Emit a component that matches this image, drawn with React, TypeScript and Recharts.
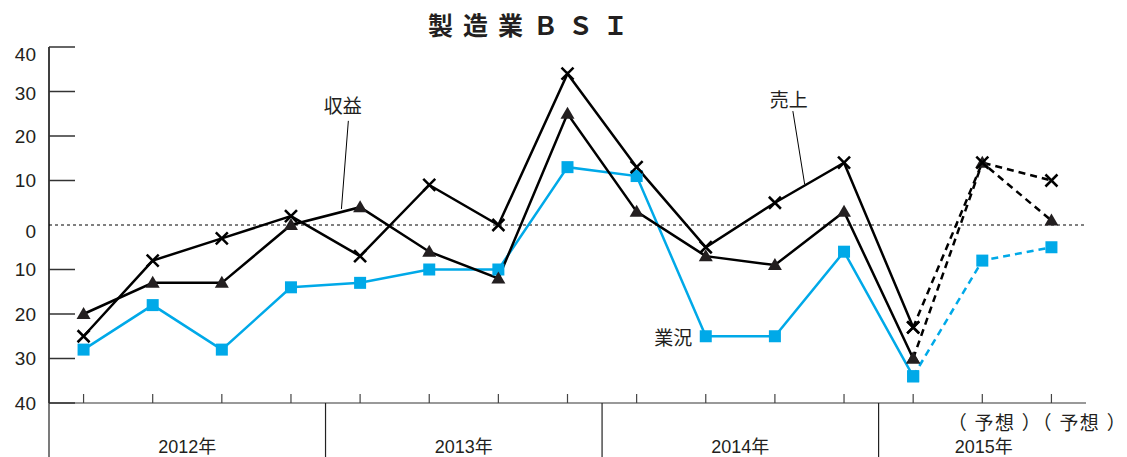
import React from 'react';
import { LineChart, Line, XAxis, YAxis, ReferenceLine, ReferenceDot } from 'recharts';

const categories = ['2012Q1','2012Q2','2012Q3','2012Q4','2013Q1','2013Q2','2013Q3','2013Q4','2014Q1','2014Q2','2014Q3','2014Q4','2015Q1','2015Q2','2015Q3'];
const sales =      [-25, -8, -3, 2, -7, 9, 0, 34, 13, -5, 5, 14, -23, 14, 10];
const profit =     [-20, -13, -13, 0, 4, -6, -12, 25, 3, -7, -9, 3, -30, 14, 1];
const conditions = [-28, -18, -28, -14, -13, -10, -10, 13, 11, -25, -25, -6, -34, -8, -5];
const FORECAST_START = 12;
const yTicks = [-40, -30, -20, -10, 0, 10, 20, 30, 40];
const yearLabels = [
  { label: '2012年', at: 1.5, anchor: 'middle' },
  { label: '2013年', at: 5.5, anchor: 'middle' },
  { label: '2014年', at: 9.5, anchor: 'middle' },
  { label: '2015年', at: 12.6, anchor: 'start' },
];
const forecastLabel = { label: '（ 予想 ）（ 予想 ）', at: 12.5 };
const yearBoundaries = [-0.5, 3.5, 7.5, 11.5];

const W = 1127, H = 457;
const M = { top: 47, right: 41, left: 0, bottom: 0 };
const YAXIS_W = 49;
const XAXIS_H = 54;
const PLOT_W = W - M.right - YAXIS_W;
const BAND = PLOT_W / categories.length;

const BLUE = '#00a9e8';
const DARK = '#231f20';
const FONT = '"Liberation Sans", Arial, "Noto Sans CJK JP", sans-serif';
const Y_LABEL_NUDGE: Record<number, number> = { 40: 7, 0: 6, 30: 1.5 };

const data = categories.map((c, i) => ({
  i,
  cat: c,
  sales: i <= FORECAST_START ? sales[i] : null,
  salesF: i >= FORECAST_START ? sales[i] : null,
  profit: i <= FORECAST_START ? profit[i] : null,
  profitF: i >= FORECAST_START ? profit[i] : null,
  cond: i <= FORECAST_START ? conditions[i] : null,
  condF: i >= FORECAST_START ? conditions[i] : null,
}));

const CrossDot = (p: any) => {
  if (p.cx == null || p.cy == null || p.value == null) return <g key={p.key} />;
  const s = 6;
  return (
    <g key={p.key}>
      <line x1={p.cx - s} y1={p.cy - s} x2={p.cx + s} y2={p.cy + s} stroke="#000" strokeWidth={2.5} />
      <line x1={p.cx - s} y1={p.cy + s} x2={p.cx + s} y2={p.cy - s} stroke="#000" strokeWidth={2.5} />
    </g>
  );
};
const TriDot = (p: any) => {
  if (p.cx == null || p.cy == null || p.value == null) return <g key={p.key} />;
  return <polygon key={p.key} points={`${p.cx},${p.cy - 7} ${p.cx - 7},${p.cy + 5} ${p.cx + 7},${p.cy + 5}`} fill={DARK} />;
};
const SqDot = (p: any) => {
  if (p.cx == null || p.cy == null || p.value == null) return <g key={p.key} />;
  return <rect key={p.key} x={p.cx - 6} y={p.cy - 6} width={12} height={12} fill={BLUE} />;
};

const YTick = (p: any) => {
  const v = p.payload.value;
  return (
    <g>
      <text x={36} y={p.y + (Y_LABEL_NUDGE[v] || 0)} textAnchor="end" dominantBaseline="central" fontSize={19} fontFamily={FONT} fill="#231f20">
        {Math.abs(v)}
      </text>
      {v !== 0 && <line x1={YAXIS_W} x2={YAXIS_W + 26} y1={p.y} y2={p.y} stroke="#333" strokeWidth={1.5} />}
    </g>
  );
};

const XTick = (p: any) => {
  const i = p.payload.value;
  const x = p.x;
  const y = p.y;
  const items: any[] = [];
  items.push(<line key="t" x1={x} x2={x} y1={y - 9} y2={y} stroke="#444" strokeWidth={1.2} />);
  yearBoundaries.forEach((b, k) => {
    if (Math.ceil(b) === i) {
      const bx = x + (b - i) * BAND;
      items.push(<line key={'b' + k} x1={bx} x2={bx} y1={y} y2={y + XAXIS_H} stroke="#222" strokeWidth={1.2} />);
    }
  });
  yearLabels.forEach((yl, k) => {
    if (Math.floor(yl.at) === i) {
      const lx = x + (yl.at - i) * BAND;
      items.push(
        <text key={'y' + k} x={lx} y={y + 44} textAnchor={yl.anchor} dominantBaseline="central" fontSize={18} fontFamily={FONT} fill="#231f20">
          {yl.label}
        </text>
      );
    }
  });
  if (Math.floor(forecastLabel.at) === i) {
    const lx = x + (forecastLabel.at - i) * BAND;
    items.push(
      <text key="f" x={lx} y={y + 20} textAnchor="start" dominantBaseline="central" fontSize={19} letterSpacing={1.3} fontFamily={FONT} fill="#231f20">
        {forecastLabel.label}
      </text>
    );
  }
  return <g>{items}</g>;
};

const seriesLabel = (text: string) => ({
  value: text,
  position: 'center' as const,
  fontSize: 19,
  fontFamily: FONT,
  fill: '#231f20',
});

export default function App() {
  return (
    <div style={{ position: 'absolute', left: 0, top: 0, width: W, height: H, background: '#fff' }}>
      <style>{`body{margin:0}`}</style>
      <div
        style={{
          position: 'absolute', left: 333, top: 6, width: 400, textAlign: 'center',
          fontFamily: '"Noto Sans CJK JP", sans-serif', fontWeight: 700, fontSize: 25,
          letterSpacing: 10, color: '#231f20', lineHeight: '36px',
        }}
      >
        製造業ＢＳＩ
      </div>
      <LineChart width={W} height={H} data={data} margin={M}>
        <XAxis
          dataKey="i"
          type="number"
          domain={[-0.5, categories.length - 0.5]}
          ticks={categories.map((_, i) => i)}
          interval={0}
          height={XAXIS_H}
          tickSize={0}
          tickMargin={0}
          axisLine={{ stroke: '#777', strokeWidth: 1.5 }}
          tickLine={false}
          tick={<XTick />}
        />
        <YAxis
          type="number"
          domain={[-40, 40]}
          ticks={yTicks}
          interval={0}
          width={YAXIS_W}
          tickSize={0}
          axisLine={{ stroke: '#000', strokeWidth: 1.5 }}
          tickLine={false}
          tick={<YTick />}
        />
        <ReferenceLine y={0} stroke="#000" strokeWidth={1} strokeDasharray="3 3" />
        <ReferenceLine segment={[{ x: 3.83, y: 23.4 }, { x: 3.73, y: 3.6 }]} stroke="#000" strokeWidth={1} />
        <ReferenceLine segment={[{ x: 10.26, y: 25.6 }, { x: 10.43, y: 9.2 }]} stroke="#000" strokeWidth={1} />
        <ReferenceDot x={3.75} y={26.6} r={0} stroke="none" fill="none" label={seriesLabel('収益')} />
        <ReferenceDot x={10.2} y={28.0} r={0} stroke="none" fill="none" label={seriesLabel('売上')} />
        <ReferenceDot x={8.53} y={-25.5} r={0} stroke="none" fill="none" label={seriesLabel('業況')} />

        <Line dataKey="cond" stroke={BLUE} strokeWidth={2.5} dot={<SqDot />} isAnimationActive={false} connectNulls={false} />
        <Line dataKey="condF" stroke={BLUE} strokeWidth={2.5} strokeDasharray="7 5" dot={<SqDot />} isAnimationActive={false} connectNulls={false} />
        <Line dataKey="profit" stroke="#000" strokeWidth={2.5} dot={<TriDot />} isAnimationActive={false} connectNulls={false} />
        <Line dataKey="profitF" stroke="#000" strokeWidth={2.5} strokeDasharray="7 5" dot={<TriDot />} isAnimationActive={false} connectNulls={false} />
        <Line dataKey="sales" stroke="#000" strokeWidth={2.5} dot={<CrossDot />} isAnimationActive={false} connectNulls={false} />
        <Line dataKey="salesF" stroke="#000" strokeWidth={2.5} strokeDasharray="7 5" dot={<CrossDot />} isAnimationActive={false} connectNulls={false} />
      </LineChart>
    </div>
  );
}
